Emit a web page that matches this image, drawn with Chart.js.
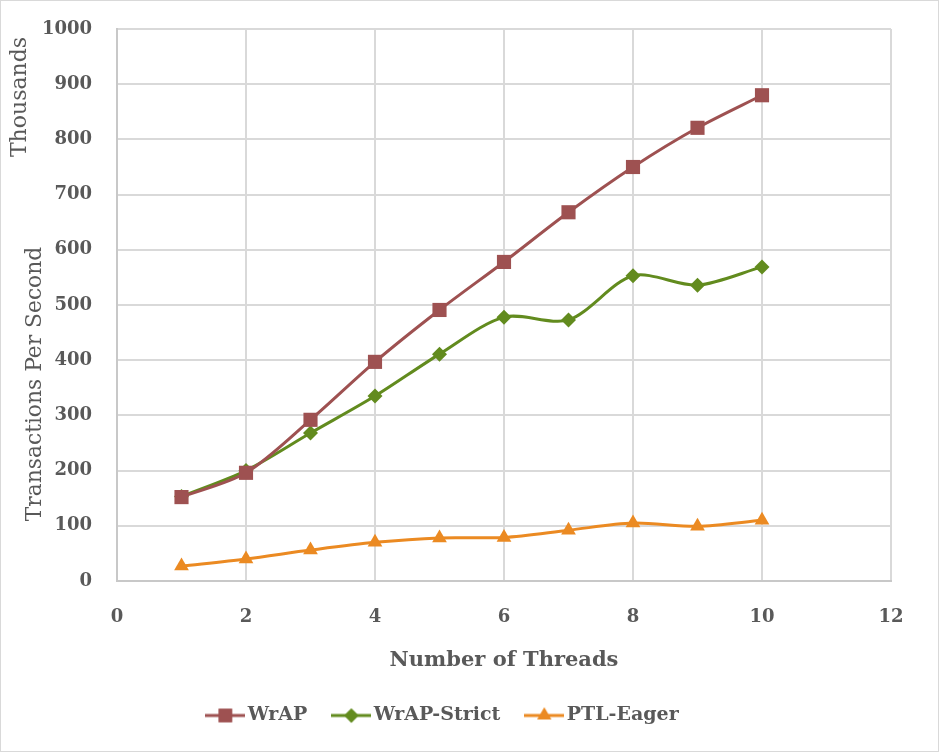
<!DOCTYPE html>
<html>
<head>
<meta charset="utf-8">
<script src="https://cdn.jsdelivr.net/npm/chart.js@4.4.1/dist/chart.umd.min.js"></script>
<style>
  html, body { margin: 0; padding: 0; background: #fff; }
  #wrap { width: 939px; height: 752px; }
</style>
</head>
<body>
<div id="wrap"><canvas id="chart" width="939" height="752"></canvas></div>
<script>
// dados
const threads = [1, 2, 3, 4, 5, 6, 7, 8, 9, 10];
const wrap = [152, 196, 292, 397, 491, 578, 668, 750, 821, 880];
const wrapStrict = [153, 200, 268, 335, 411, 478, 473, 553, 536, 569];
const ptlEager = [27, 40, 56, 70, 78, 79, 92, 105, 99, 110];
const seriesNames = ["WrAP", "WrAP-Strict", "PTL-Eager"];

const cores = ["#9E5151", "#628B1E", "#EB8A22"];
const estilos = ["rect", "rectRot", "triangle"];
const raios = [10, 7.5, 8.5];
const cinza = "#595959";
const fonte = "'DejaVu Serif', serif";

const toPoints = (vals) => vals.map((v, i) => ({ x: threads[i], y: v }));

// icone da legenda: linha + marcador
const legendIcon = (i) => {
  const c = document.createElement("canvas");
  c.width = 40;
  c.height = 22;
  const ctx = c.getContext("2d");
  ctx.strokeStyle = cores[i];
  ctx.lineWidth = 3;
  ctx.beginPath();
  ctx.moveTo(0, 11);
  ctx.lineTo(40, 11);
  ctx.stroke();
  ctx.fillStyle = cores[i];
  Chart.helpers.drawPoint(ctx, { pointStyle: estilos[i], radius: raios[i] * 0.95, rotation: 0, borderWidth: 0 }, 20, 11);
  ctx.fill();
  return c;
};

// texto vertical ajustado a uma largura
const textoVertical = (ctx, texto, x, y, largura) => {
  ctx.save();
  ctx.font = "20px " + fonte;
  const size = 20 * largura / ctx.measureText(texto).width;
  ctx.font = size.toFixed(1) + "px " + fonte;
  ctx.fillStyle = cinza;
  ctx.textAlign = "center";
  ctx.textBaseline = "middle";
  ctx.translate(x, y);
  ctx.rotate(-Math.PI / 2);
  ctx.fillText(texto, 0, 0);
  ctx.restore();
};

// titulos do eixo y e borda
const extras = {
  id: "extras",
  afterDraw(chart) {
    const ctx = chart.ctx;
    ctx.save();
    ctx.strokeStyle = "#d9d9d9";
    ctx.lineWidth = 1;
    ctx.strokeRect(0.5, 0.5, chart.width - 1, chart.height - 1);
    ctx.restore();
    textoVertical(ctx, "Thousands", 20, 97, 120);
    textoVertical(ctx, "Transactions Per Second", 35, 384, 275);
  },
};

const datasets = [wrap, wrapStrict, ptlEager].map((vals, i) => ({
  label: seriesNames[i],
  data: toPoints(vals),
  borderColor: cores[i],
  backgroundColor: cores[i],
  borderWidth: 3,
  pointStyle: estilos[i],
  pointRadius: raios[i],
  pointHoverRadius: raios[i],
  pointBorderWidth: 0,
  tension: 0.3,
}));

new Chart(document.getElementById("chart"), {
  type: "line",
  data: { datasets },
  options: {
    responsive: false,
    animation: false,
    layout: { padding: { left: 0, right: 48, top: 29, bottom: 17 } },
    plugins: {
      tooltip: { enabled: false },
      legend: {
        position: "bottom",
        labels: {
          color: cinza,
          font: { family: fonte, size: 19, weight: "bold" },
          usePointStyle: true,
          pointStyleWidth: 26,
          padding: 31,
          generateLabels: (chart) =>
            chart.data.datasets.map((ds, i) => ({
              text: ds.label,
              fillStyle: cores[i],
              strokeStyle: cores[i],
              lineWidth: 0,
              pointStyle: legendIcon(i),
              datasetIndex: i,
              fontColor: cinza,
            })),
        },
      },
    },
    scales: {
      x: {
        type: "linear",
        min: 0,
        max: 12,
        ticks: {
          stepSize: 2,
          color: cinza,
          padding: 26,
          font: { family: fonte, size: 18, weight: "bold" },
        },
        grid: { color: "#d9d9d9", lineWidth: 2, drawTicks: false },
        border: { color: "#c8c8c8", width: 2 },
        title: {
          display: true,
          text: "Number of Threads",
          color: cinza,
          font: { family: fonte, size: 21, weight: "bold" },
          padding: { top: 5, bottom: 2 },
        },
        afterFit: (scale) => { scale.height = 94; },
      },
      y: {
        min: 0,
        max: 1000,
        ticks: {
          stepSize: 100,
          color: cinza,
          padding: 25,
          font: { family: fonte, size: 18, weight: "bold" },
          callback: (v) => String(v),
        },
        grid: { color: "#d9d9d9", lineWidth: 2, drawTicks: false },
        border: { color: "#c8c8c8", width: 2 },
        afterFit: (scale) => {
          scale.width = 117;
          scale.paddingTop = 0;
          scale.paddingBottom = 0;
        },
      },
    },
  },
  plugins: [extras],
});
</script>
</body>
</html>
